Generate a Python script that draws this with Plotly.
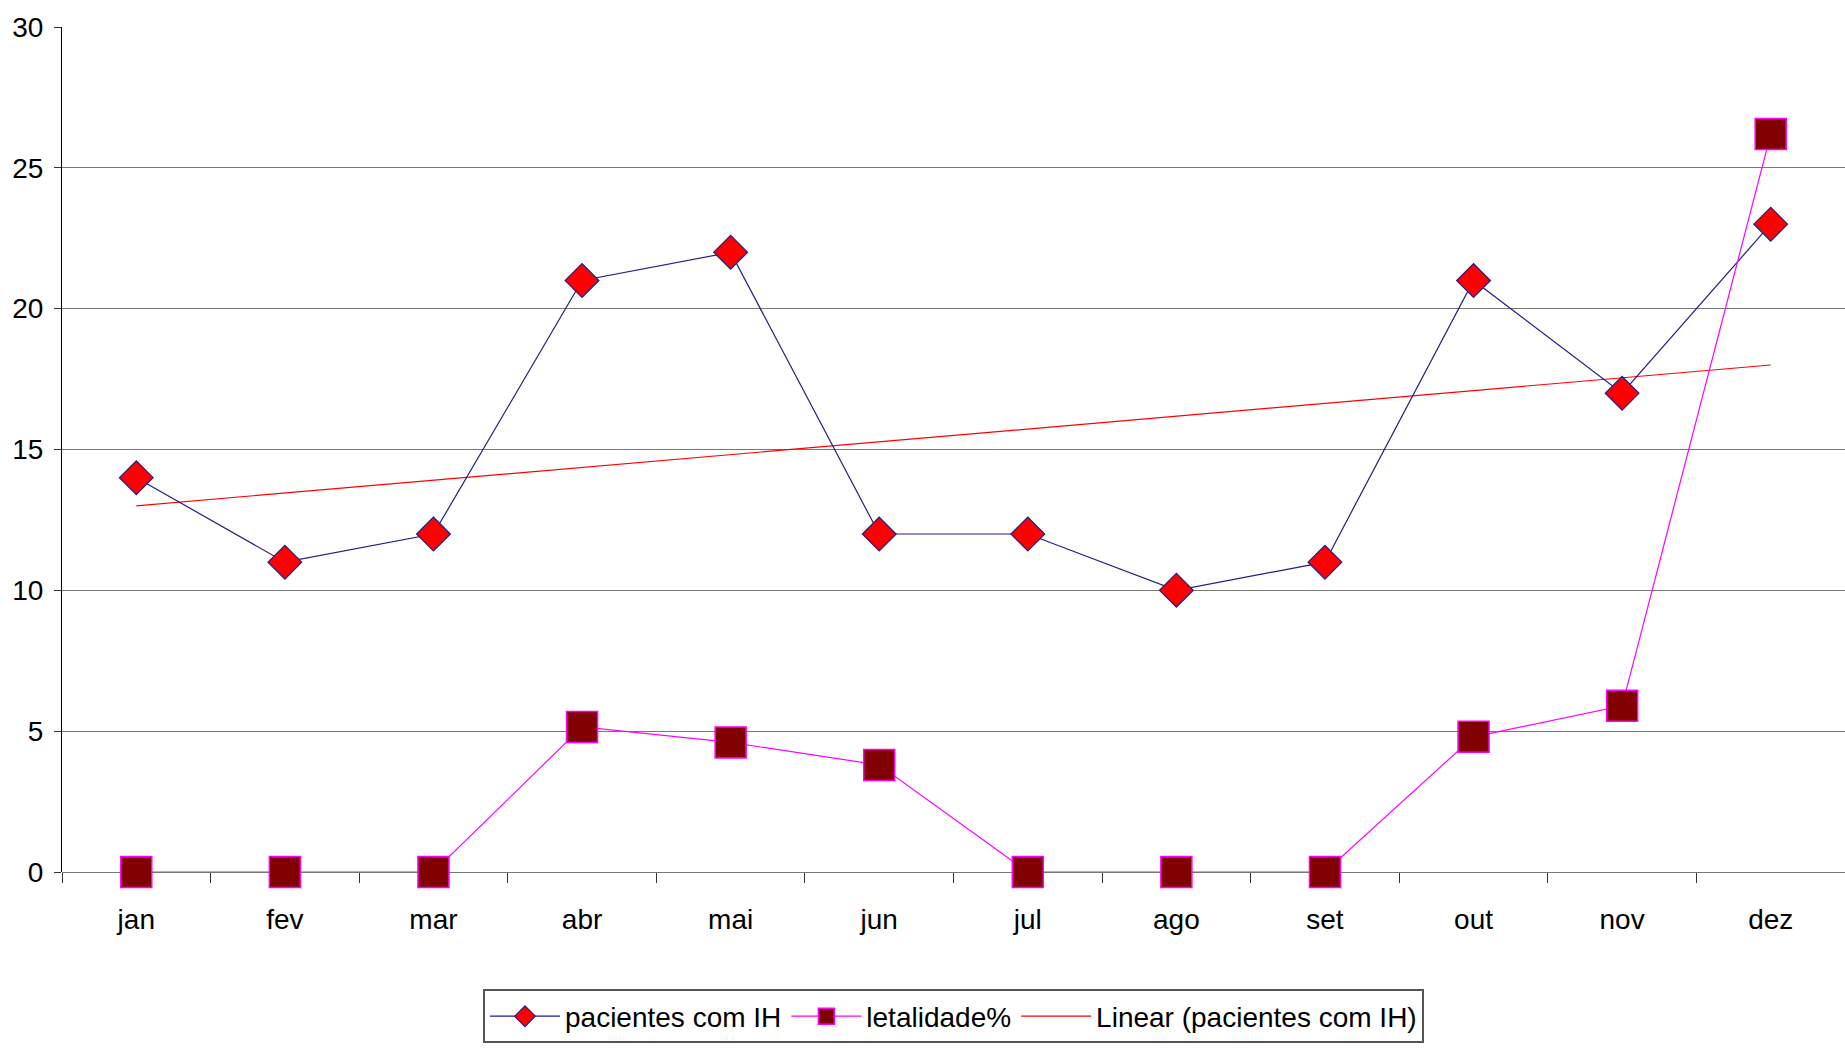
import numpy as np
import plotly.graph_objects as go

months = ["jan", "fev", "mar", "abr", "mai", "jun", "jul", "ago", "set", "out", "nov", "dez"]
pacientes = [14, 11, 12, 21, 22, 12, 12, 10, 11, 21, 17, 23]
letalidade = [0, 0, 0, 5.15, 4.6, 3.8, 0, 0, 0, 4.8, 5.9, 26.2]
y_ticks = [0, 5, 10, 15, 20, 25, 30]

# linear trendline of pacientes (least squares, like Excel)
xi = np.arange(1, len(pacientes) + 1)
slope, intercept = np.polyfit(xi, pacientes, 1)
trend = list(slope * xi + intercept)

FONT = "Liberation Sans, Arial, sans-serif"
FS = 28

fig = go.Figure()
fig.add_trace(go.Scatter(
    x=months, y=trend, mode="lines", name="Linear (pacientes com IH)",
    line=dict(color="#FF0000", width=1.2), legendrank=3, cliponaxis=False,
))
fig.add_trace(go.Scatter(
    x=months, y=pacientes, mode="lines+markers", name="pacientes com IH",
    line=dict(color="#1F1F8A", width=1.2),
    marker=dict(symbol="diamond", size=26, color="#FF0000",
                line=dict(color="#1F1F8A", width=1.2)),
    legendrank=1, cliponaxis=False,
))
fig.add_trace(go.Scatter(
    x=months, y=letalidade, mode="lines+markers", name="letalidade%",
    line=dict(color="#FF00FF", width=1.2),
    marker=dict(symbol="square", size=31, color="#800000",
                line=dict(color="#FF00FF", width=1.5)),
    legendrank=2, cliponaxis=False,
))

fig.update_layout(
    width=1845, height=1053,
    margin=dict(l=62, r=0, t=27, b=181),
    paper_bgcolor="white", plot_bgcolor="white",
    font=dict(family=FONT, size=FS, color="black"),
    showlegend=True,
    legend=dict(
        orientation="h", x=0.5, xanchor="center", y=-0.139, yanchor="top",
        bgcolor="white", bordercolor="#555", borderwidth=2,
        font=dict(family=FONT, size=FS, color="black"),
        itemwidth=70, traceorder="normal",
    ),
    xaxis=dict(
        type="category", range=[-0.5, 11.5], showgrid=False,
        showline=False, zeroline=False,
        tickson="boundaries", ticks="outside", ticklen=10, tickcolor="#333",
        tickfont=dict(family=FONT, size=FS, color="black"),
        ticklabelstandoff=28,
    ),
    yaxis=dict(
        range=[0, 30], tickvals=y_ticks, showgrid=True, gridcolor="#777",
        gridwidth=1.3, zeroline=True, zerolinecolor="#777", zerolinewidth=1.3,
        showline=True, linecolor="black", linewidth=1.2,
        ticks="outside", ticklen=7, tickcolor="#333",
        tickfont=dict(family=FONT, size=FS, color="black"),
        ticklabelstandoff=5,
    ),
)

fig.write_html("out.html", config={"displayModeBar": False},
               post_script="document.body.style.margin='0';")
